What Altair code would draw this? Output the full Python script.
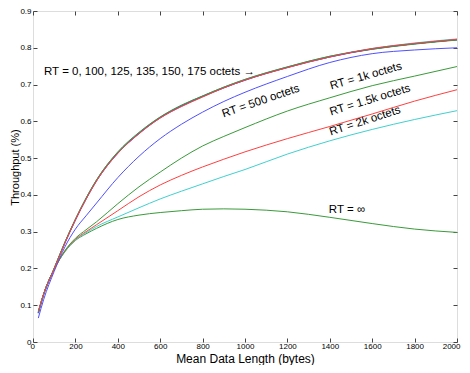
import altair as alt
import pandas as pd

# ---- data ----
x_vals = [25, 50, 100, 150, 200, 250, 300, 400, 500, 600, 700, 800, 900, 1000, 1200, 1400, 1600, 1800, 2000]

rt_inf = [0.080, 0.130, 0.198, 0.245, 0.276, 0.294, 0.309, 0.333, 0.345, 0.352, 0.357, 0.361, 0.362, 0.361, 0.354, 0.339, 0.322, 0.307, 0.298]
rt_2k = [0.080, 0.130, 0.198, 0.246, 0.277, 0.297, 0.314, 0.340, 0.365, 0.389, 0.410, 0.430, 0.450, 0.469, 0.511, 0.547, 0.578, 0.605, 0.629]
rt_1k5 = [0.080, 0.130, 0.198, 0.247, 0.279, 0.300, 0.319, 0.357, 0.395, 0.427, 0.453, 0.476, 0.497, 0.517, 0.553, 0.586, 0.620, 0.655, 0.686]
rt_1k = [0.080, 0.130, 0.198, 0.248, 0.282, 0.305, 0.327, 0.376, 0.422, 0.462, 0.500, 0.533, 0.559, 0.583, 0.628, 0.664, 0.697, 0.723, 0.749]
rt_500 = [0.065, 0.115, 0.192, 0.258, 0.307, 0.343, 0.378, 0.447, 0.505, 0.553, 0.592, 0.625, 0.654, 0.679, 0.722, 0.760, 0.784, 0.794, 0.800]
rt_0 = [0.082, 0.130, 0.200, 0.270, 0.333, 0.390, 0.440, 0.515, 0.568, 0.610, 0.642, 0.668, 0.692, 0.713, 0.747, 0.776, 0.797, 0.811, 0.822]
rt_175 = [0.079, 0.128, 0.199, 0.268, 0.331, 0.388, 0.438, 0.513, 0.567, 0.609, 0.641, 0.667, 0.691, 0.712, 0.746, 0.775, 0.796, 0.811, 0.822]
rt_150 = [0.080, 0.130, 0.200, 0.270, 0.334, 0.391, 0.441, 0.516, 0.569, 0.611, 0.643, 0.669, 0.693, 0.714, 0.748, 0.777, 0.798, 0.813, 0.824]
rt_135 = [0.078, 0.127, 0.199, 0.269, 0.332, 0.389, 0.439, 0.514, 0.567, 0.611, 0.642, 0.668, 0.691, 0.712, 0.747, 0.775, 0.797, 0.811, 0.822]
rt_125 = [0.081, 0.129, 0.201, 0.271, 0.334, 0.391, 0.441, 0.517, 0.570, 0.612, 0.644, 0.669, 0.693, 0.714, 0.748, 0.777, 0.796, 0.810, 0.821]
rt_100 = [0.084, 0.131, 0.199, 0.268, 0.332, 0.388, 0.438, 0.513, 0.566, 0.609, 0.640, 0.666, 0.691, 0.712, 0.746, 0.775, 0.798, 0.812, 0.823]

series_names = ["a_inf", "b_2k", "c_1.5k", "d_1k", "e_500", "f_0", "g_175", "h_150", "i_135", "j_125", "k_100"]
series_values = [rt_inf, rt_2k, rt_1k5, rt_1k, rt_500, rt_0, rt_175, rt_150, rt_135, rt_125, rt_100]
series_colors = ["#3a9a3a", "#40d0d0", "#ff4040", "#3a9a3a", "#5050ff",
                 "#333333", "#cc44cc", "#40c8c8", "#5050ff", "#3a9a3a", "#ff4040"]

x_ticks = [0, 200, 400, 600, 800, 1000, 1200, 1400, 1600, 1800, 2000]
y_ticks = [0, 0.1, 0.2, 0.3, 0.4, 0.5, 0.6, 0.7, 0.8, 0.9]

# annotation (left-aligned) for the cluster of near-identical curves
cluster_text = ["RT = 0, 100, 125, 135, 150, 175 octets \u2192"]
cluster_x = [52]
cluster_y = [0.735]

# centred annotations
ann_text = ["RT = 500 octets", "RT = 1k octets", "RT = 1.5k octets", "RT = 2k octets", "RT = \u221e"]
ann_x = [1075, 1571, 1590, 1566, 1481]
ann_y = [0.654, 0.722, 0.657, 0.600, 0.360]
ann_angle = [341, 344, 343, 342, 0]

rows = []
for name, vals in zip(series_names, series_values):
    for xv, yv in zip(x_vals, vals):
        rows.append({"x": xv, "y": yv, "series": name})
df = pd.DataFrame(rows)

ann_df = pd.DataFrame({"text": ann_text, "x": ann_x, "y": ann_y, "angle": ann_angle})
cl_df = pd.DataFrame({"text": cluster_text, "x": cluster_x, "y": cluster_y})

W, H = 424, 331
FONT = "Liberation Sans"
AX = "#444444"

xs = alt.Scale(domain=[0, 2000], nice=False, zero=False)
ys = alt.Scale(domain=[0, 0.9], nice=False, zero=False)

lines = alt.Chart(df).mark_line(strokeWidth=1, interpolate="monotone").encode(
    x=alt.X("x:Q", scale=xs, axis=alt.Axis(
        values=x_ticks, format="d", title="Mean Data Length (bytes)", orient="bottom",
        ticks=False, tickSize=0, domain=False, grid=False, labelPadding=0,
        labelFont=FONT, labelFontSize=8, labelColor="black",
        labelFlush=True, labelFlushOffset=3,
        titleFont=FONT, titleFontSize=12, titleFontWeight="normal", titleColor="black",
        titleY=20.5, titleBaseline="alphabetic")),
    y=alt.Y("y:Q", scale=ys, axis=alt.Axis(
        values=y_ticks, format=".1~f", title="Throughput (%)", orient="left",
        ticks=False, tickSize=0, domain=False, grid=False, labelPadding=2,
        labelFont=FONT, labelFontSize=8, labelColor="black", labelFlush=False,
        titleFont=FONT, titleFontSize=11, titleFontWeight="normal", titleColor="black",
        titleX=-14.8, titleY=156, titleAngle=270, titleBaseline="alphabetic", titleAlign="center")),
    color=alt.Color("series:N", scale=alt.Scale(domain=series_names, range=series_colors), legend=None),
)


def tick_layer(x_axis, y_axis):
    return alt.Chart(df).mark_point(opacity=0, size=1).encode(
        x=alt.X("x:Q", scale=xs, axis=x_axis),
        y=alt.Y("y:Q", scale=ys, axis=y_axis),
    )


tick_common = dict(labels=False, domain=False, grid=False, title=None, tickSize=4, tickColor=AX, ticks=True)
bottom_inside = tick_layer(alt.Axis(orient="top", offset=-H, values=x_ticks, **tick_common), None)
top_inside = tick_layer(alt.Axis(orient="bottom", offset=-H, values=x_ticks, **tick_common), None)
right_inside = tick_layer(None, alt.Axis(orient="left", offset=-W, values=y_ticks, **tick_common))
left_inside = tick_layer(None, alt.Axis(orient="right", offset=-W, values=y_ticks, **tick_common))

texts_center = alt.Chart(ann_df).mark_text(font=FONT, fontSize=11.5, baseline="middle", align="center",
                                           color="black").encode(
    x=alt.X("x:Q", scale=xs, axis=None),
    y=alt.Y("y:Q", scale=ys, axis=None),
    text="text:N",
    angle=alt.Angle("angle:Q", scale=None),
)

texts_left = alt.Chart(cl_df).mark_text(font=FONT, fontSize=11.5, baseline="middle", align="left",
                                        color="black").encode(
    x=alt.X("x:Q", scale=xs, axis=None),
    y=alt.Y("y:Q", scale=ys, axis=None),
    text="text:N",
)

chart = alt.layer(lines, bottom_inside, top_inside, right_inside, left_inside,
                  texts_left, texts_center).resolve_axis(
    x="independent", y="independent"
).properties(
    width=W, height=H,
    autosize=alt.AutoSizeParams(type="none"),
    padding={"left": 25, "top": 3, "right": 5, "bottom": 23},
).configure_view(stroke=AX, strokeWidth=1).configure(background="white")

chart.save("out.html", embed_options={"renderer": "svg", "actions": False})
